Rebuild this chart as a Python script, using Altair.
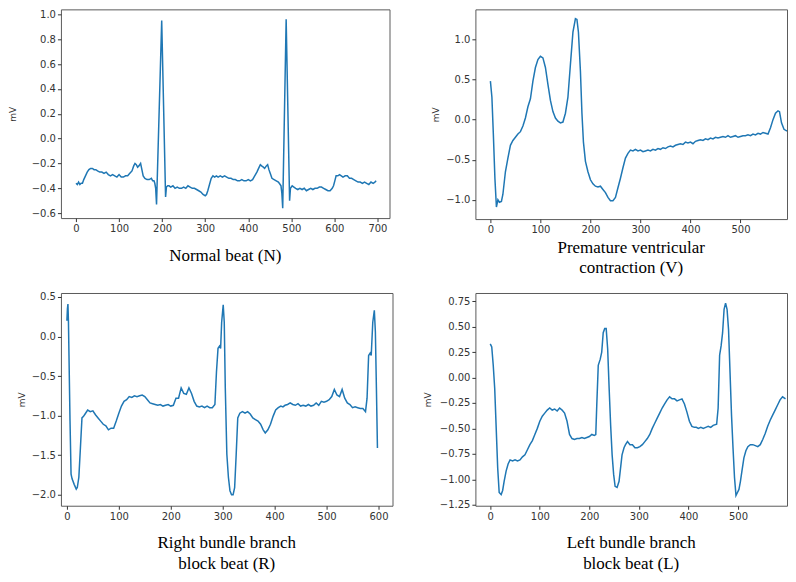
import altair as alt
import pandas as pd

# ---------------- data ----------------
# Normal beat (N)
n_x = [0, 3, 6, 9, 12, 15, 18, 22, 26, 30, 34, 38, 42, 46, 50, 55, 60, 65, 70, 75,
       80, 85, 90, 95, 100, 105, 110, 115, 120, 125, 130, 134, 137, 140, 143, 146, 150, 153, 156, 160,
       165, 170, 175, 178, 181, 183, 185, 187, 199, 208, 210, 213, 216, 220, 225, 230, 235, 240, 245, 250,
       255, 260, 265, 270, 275, 280, 285, 290, 295, 300, 303, 306, 310, 314, 318, 322, 326, 330, 335, 340,
       345, 350, 355, 360, 365, 370, 375, 380, 385, 390, 395, 400, 405, 410, 415, 420, 424, 428, 431, 435,
       438, 442, 445, 448, 451, 455, 460, 465, 470, 474, 476, 478, 480, 488, 496, 498, 502, 506, 510, 515,
       520, 525, 530, 535, 540, 545, 550, 555, 560, 565, 570, 575, 580, 585, 590, 595, 598, 601, 604, 608,
       612, 616, 620, 625, 630, 635, 640, 645, 650, 655, 660, 665, 670, 675, 680, 685, 690, 694, 697]
n_y = [-0.36, -0.37, -0.35, -0.37, -0.36, -0.36, -0.33, -0.30, -0.27, -0.25, -0.24, -0.24, -0.25, -0.25, -0.26, -0.27, -0.27, -0.28, -0.27, -0.29,
       -0.30, -0.29, -0.30, -0.31, -0.29, -0.31, -0.31, -0.30, -0.30, -0.28, -0.26, -0.22, -0.20, -0.21, -0.23, -0.22, -0.20, -0.25, -0.30, -0.32,
       -0.33, -0.33, -0.32, -0.34, -0.34, -0.36, -0.40, -0.53, 0.95, -0.47, -0.39, -0.38, -0.38, -0.39, -0.38, -0.40, -0.39, -0.40, -0.40, -0.39,
       -0.40, -0.38, -0.39, -0.40, -0.40, -0.41, -0.42, -0.43, -0.45, -0.46, -0.45, -0.42, -0.37, -0.32, -0.30, -0.31, -0.30, -0.31, -0.30, -0.31,
       -0.30, -0.31, -0.32, -0.32, -0.33, -0.33, -0.34, -0.34, -0.33, -0.34, -0.34, -0.33, -0.34, -0.33, -0.30, -0.27, -0.24, -0.21, -0.22, -0.23,
       -0.24, -0.22, -0.21, -0.25, -0.28, -0.32, -0.33, -0.34, -0.35, -0.37, -0.38, -0.44, -0.56, 0.96, -0.50, -0.40, -0.38, -0.39, -0.40, -0.41,
       -0.40, -0.41, -0.40, -0.42, -0.41, -0.40, -0.41, -0.40, -0.40, -0.39, -0.39, -0.40, -0.41, -0.42, -0.42, -0.40, -0.38, -0.34, -0.30, -0.30,
       -0.29, -0.30, -0.31, -0.30, -0.30, -0.32, -0.32, -0.33, -0.34, -0.35, -0.35, -0.36, -0.35, -0.36, -0.37, -0.35, -0.36, -0.35, -0.34]

# Premature ventricular contraction (V)
v_x = [0, 3, 6, 9, 12, 15, 18, 22, 25, 30, 35, 40, 45, 50, 55, 60, 65, 70, 75, 80,
       85, 90, 95, 100, 105, 110, 115, 120, 125, 130, 135, 140, 145, 150, 155, 160, 165, 170, 173, 176,
       180, 183, 186, 190, 195, 200, 205, 210, 215, 220, 225, 230, 235, 240, 245, 250, 255, 260, 265, 270,
       275, 280, 285, 290, 295, 300, 305, 310, 315, 320, 325, 330, 335, 340, 345, 350, 355, 360, 365, 370,
       375, 380, 385, 390, 395, 400, 405, 410, 415, 420, 425, 430, 435, 440, 445, 450, 455, 460, 465, 470,
       475, 480, 485, 490, 495, 500, 505, 510, 515, 520, 525, 530, 535, 540, 545, 550, 555, 560, 565, 570,
       575, 578, 582, 587, 592, 597]
v_y = [0.48, 0.28, -0.20, -0.73, -1.09, -1.00, -1.03, -1.02, -0.93, -0.65, -0.48, -0.32, -0.26, -0.22, -0.18, -0.15, -0.08, 0.02, 0.16, 0.26,
       0.48, 0.65, 0.75, 0.79, 0.77, 0.65, 0.44, 0.24, 0.10, 0.02, -0.02, -0.04, -0.03, 0.08, 0.28, 0.69, 1.09, 1.26, 1.25, 1.09,
       0.60, 0.08, -0.28, -0.52, -0.65, -0.75, -0.80, -0.83, -0.84, -0.83, -0.87, -0.91, -0.97, -1.01, -1.01, -0.97, -0.85, -0.73, -0.60, -0.48,
       -0.42, -0.38, -0.39, -0.37, -0.39, -0.38, -0.40, -0.39, -0.38, -0.39, -0.37, -0.38, -0.36, -0.37, -0.35, -0.36, -0.34, -0.33, -0.34, -0.32,
       -0.31, -0.30, -0.31, -0.28, -0.29, -0.28, -0.30, -0.27, -0.26, -0.25, -0.26, -0.24, -0.25, -0.23, -0.24, -0.22, -0.23, -0.22, -0.21, -0.22,
       -0.20, -0.22, -0.21, -0.20, -0.22, -0.21, -0.20, -0.20, -0.19, -0.20, -0.18, -0.19, -0.17, -0.18, -0.16, -0.17, -0.18, -0.10, 0.00, 0.08,
       0.11, 0.10, -0.04, -0.12, -0.14, -0.14]

# Right bundle branch block beat (R)
r_x = [0, 1, 2, 3, 4, 6, 8, 10, 14, 18, 20, 23, 26, 29, 32, 35, 40, 45, 50, 55,
       60, 65, 70, 75, 80, 85, 90, 95, 100, 105, 110, 115, 120, 125, 130, 135, 140, 145, 150, 155,
       160, 165, 170, 175, 180, 185, 190, 195, 200, 205, 210, 215, 220, 225, 230, 235, 240, 245, 250, 255,
       260, 265, 270, 275, 280, 285, 288, 291, 294, 296, 298, 301, 303, 305, 308, 311, 314, 317, 320, 323,
       326, 329, 333, 338, 343, 348, 353, 358, 363, 368, 373, 378, 382, 387, 392, 397, 402, 407, 412, 416,
       420, 425, 430, 435, 440, 445, 450, 455, 460, 465, 470, 475, 480, 485, 490, 495, 500, 505, 510, 515,
       520, 525, 530, 535, 540, 545, 550, 555, 560, 565, 570, 575, 578, 581, 584, 586, 589, 592, 594, 596,
       598]
r_y = [0.20, 0.35, 0.41, 0.18, -0.24, -1.07, -1.74, -1.80, -1.87, -1.93, -1.91, -1.78, -1.41, -1.03, -1.01, -0.98, -0.93, -0.95, -0.94, -0.99,
       -1.03, -1.07, -1.11, -1.13, -1.18, -1.16, -1.16, -1.07, -0.97, -0.88, -0.82, -0.80, -0.76, -0.77, -0.75, -0.76, -0.75, -0.74, -0.76, -0.80,
       -0.84, -0.85, -0.86, -0.87, -0.86, -0.88, -0.87, -0.86, -0.88, -0.87, -0.78, -0.78, -0.65, -0.72, -0.73, -0.65, -0.72, -0.82, -0.88, -0.89,
       -0.88, -0.90, -0.88, -0.90, -0.90, -0.86, -0.45, -0.15, -0.12, -0.15, 0.18, 0.40, 0.18, -0.65, -1.49, -1.78, -1.95, -2.00, -2.00, -1.91,
       -1.49, -1.03, -0.97, -0.95, -0.97, -0.95, -0.98, -1.03, -1.05, -1.07, -1.11, -1.18, -1.22, -1.18, -1.11, -1.01, -0.93, -0.90, -0.88, -0.89,
       -0.87, -0.86, -0.84, -0.86, -0.87, -0.85, -0.88, -0.87, -0.88, -0.86, -0.88, -0.87, -0.84, -0.87, -0.82, -0.83, -0.82, -0.80, -0.76, -0.67,
       -0.74, -0.76, -0.67, -0.78, -0.84, -0.86, -0.90, -0.89, -0.90, -0.91, -0.91, -0.95, -0.78, -0.24, -0.21, -0.24, 0.18, 0.33, 0.06, -0.65,
       -1.41]

# Left bundle branch block beat (L)
l_x = [0, 3, 6, 9, 12, 15, 18, 22, 25, 28, 32, 36, 40, 45, 50, 55, 60, 65, 70, 75,
       80, 85, 90, 95, 100, 105, 110, 115, 120, 125, 130, 135, 140, 145, 150, 155, 160, 165, 170, 175,
       180, 185, 190, 195, 200, 205, 210, 213, 215, 218, 222, 225, 228, 231, 234, 237, 240, 243, 246, 249,
       252, 256, 260, 263, 266, 270, 273, 277, 282, 287, 292, 297, 302, 307, 312, 317, 322, 327, 332, 337,
       342, 347, 352, 357, 362, 367, 372, 377, 382, 387, 392, 397, 402, 407, 412, 416, 420, 425, 430, 435,
       440, 445, 450, 457, 460, 463, 466, 469, 472, 475, 478, 481, 484, 487, 490, 493, 496, 499, 502, 505,
       508, 512, 516, 520, 525, 530, 535, 540, 545, 550, 555, 560, 565, 570, 575, 580, 585, 590, 596]
l_y = [0.33, 0.30, 0.12, -0.11, -0.50, -0.89, -1.13, -1.15, -1.11, -1.02, -0.92, -0.85, -0.81, -0.82, -0.81, -0.82, -0.81, -0.78, -0.76, -0.71,
       -0.66, -0.62, -0.56, -0.50, -0.43, -0.38, -0.35, -0.32, -0.30, -0.32, -0.31, -0.33, -0.30, -0.32, -0.35, -0.43, -0.56, -0.60, -0.61, -0.60,
       -0.60, -0.59, -0.60, -0.59, -0.58, -0.56, -0.57, -0.56, -0.27, 0.12, 0.18, 0.25, 0.44, 0.48, 0.48, 0.28, -0.11, -0.47, -0.76, -0.95,
       -1.07, -1.08, -1.02, -0.89, -0.76, -0.69, -0.66, -0.63, -0.66, -0.66, -0.69, -0.69, -0.68, -0.66, -0.63, -0.60, -0.56, -0.50, -0.45, -0.40,
       -0.35, -0.30, -0.26, -0.22, -0.19, -0.21, -0.21, -0.23, -0.22, -0.21, -0.26, -0.34, -0.43, -0.48, -0.49, -0.49, -0.50, -0.49, -0.50, -0.49,
       -0.48, -0.49, -0.47, -0.46, -0.30, 0.22, 0.31, 0.44, 0.67, 0.73, 0.67, 0.47, 0.05, -0.37, -0.69, -0.98, -1.16, -1.13, -1.10, -1.02,
       -0.92, -0.79, -0.72, -0.68, -0.66, -0.66, -0.67, -0.68, -0.66, -0.61, -0.55, -0.48, -0.42, -0.37, -0.32, -0.27, -0.22, -0.19, -0.21]

titles = [["Normal beat (N)"],
          ["Premature ventricular", "contraction (V)"],
          ["Right bundle branch", "block beat (R)"],
          ["Left bundle branch", "block beat (L)"]]

ticks_x_n = [0, 100, 200, 300, 400, 500, 600, 700]
ticks_x_r = [0, 100, 200, 300, 400, 500, 600]
ticks_x = [0, 100, 200, 300, 400, 500]  # the 600 label falls at the page edge
ticks_y_n = [-0.6, -0.4, -0.2, 0.0, 0.2, 0.4, 0.6, 0.8, 1.0]
ticks_y_v = [-1.0, -0.5, 0.0, 0.5, 1.0]
ticks_y_r = [-2.0, -1.5, -1.0, -0.5, 0.0, 0.5]
ticks_y_l = [-1.25, -1.0, -0.75, -0.5, -0.25, 0.0, 0.25, 0.5, 0.75]


def panel(xs, ys, xdom, ydom, xticks, yticks, yfmt, w, h, title, toff, tpad):
    df = pd.DataFrame({"x": xs, "y": ys})
    return (
        alt.Chart(
            df,
            title=alt.TitleParams(
                text=title, orient="bottom", anchor="middle", frame="group",
                font="Liberation Serif", fontSize=17, fontWeight="normal",
                color="black", offset=toff, lineHeight=20.5,
            ),
        )
        .mark_line(color="#1f77b4", strokeWidth=1.5, clip=True)
        .encode(
            x=alt.X("x:Q", scale=alt.Scale(domain=xdom, nice=False, zero=False),
                    axis=alt.Axis(values=xticks, format="d", title=None)),
            y=alt.Y("y:Q", scale=alt.Scale(domain=ydom, nice=False, zero=False),
                    axis=alt.Axis(values=yticks, format=yfmt, title="mV", titlePadding=tpad)),
        )
        .properties(width=w, height=h)
    )


p1 = panel(n_x, n_y, [-35, 728], [-0.64, 1.04], ticks_x_n, ticks_y_n, ".1f", 329, 209, titles[0], 14, 13.7)
p2 = panel(v_x, v_y, [-30, 593], [-1.24, 1.375], ticks_x, ticks_y_v, ".1f", 312, 210, titles[1], 5, 4.7)
p3 = panel(r_x, r_y, [-11.5, 627], [-2.14, 0.55], ticks_x_r, ticks_y_r, ".1f", 332, 213, titles[2], 14, 4.7)
p4 = panel(l_x, l_y, [-30, 599], [-1.26, 0.83], ticks_x, ticks_y_l, ".2f", 312, 213, titles[3], 14, 6.7)

row1 = alt.hconcat(p1, p2, spacing=41)
row2 = alt.hconcat(p3, p4, spacing=29)

chart = (
    alt.vconcat(row1, row2, spacing=14)
    .properties(padding=0, background="white")
    .configure_view(stroke="#5a5a5a", strokeWidth=1)
    .configure_axis(
        grid=False, domain=False, ticks=True, tickSize=3.5, tickColor="#333333",
        labelFont="DejaVu Sans", labelFontSize=10, labelColor="#333333", labelPadding=2,
        labelFlush=False, labelOverlap=False,
        titleFont="DejaVu Sans", titleFontSize=9, titleFontWeight="normal", titleColor="#333333",
    )
)

chart.save("out.html", embed_options={"renderer": "svg", "actions": False})
